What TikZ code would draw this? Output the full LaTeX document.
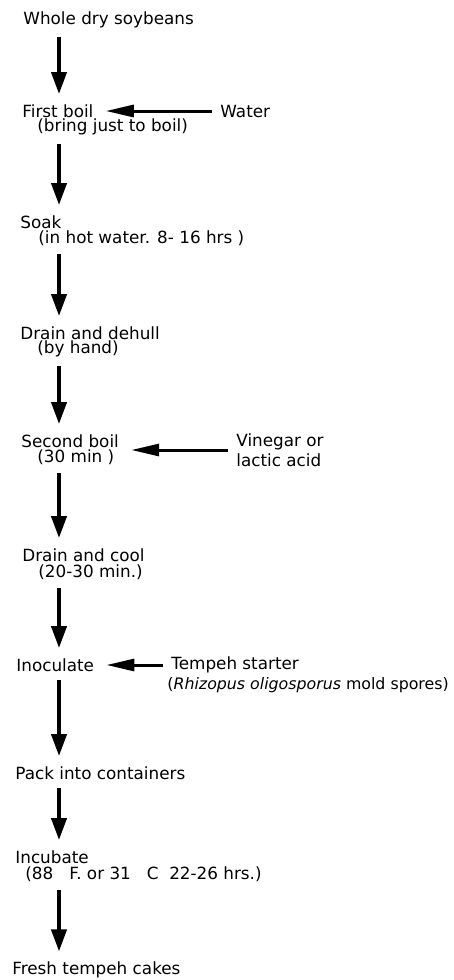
\documentclass[tikz,border=0pt]{standalone}
\usepackage{fontspec}
\setmainfont{DejaVu Sans}
\usetikzlibrary{arrows.meta}

\begin{document}
\begin{tikzpicture}[
    x=0.5pt, y=-0.5pt,
    stage/.style={anchor=west, inner sep=0pt, font=\fontsize{8.4}{10}\selectfont},
    down/.style={-{Triangle[length=11pt, width=7.5pt]}, line width=2pt, shorten <=4pt, shorten >=5pt},
    feed/.style={-{Triangle[length=14pt, width=6pt]}, line width=1.5pt, shorten <=4pt, shorten >=6pt}
]
    \useasboundingbox (0,0) rectangle (454,980);
    \coordinate (spine) at (59,0);

    % Main steps
    \node[stage] (beans) at (23,20) {Whole dry soybeans};
    \node[stage] (boil1) at (22,111) {First boil};
    \node[stage] (boil1note) at (37,127) {(bring just to boil)};
    \node[stage] (soak) at (20,222) {Soak};
    \node[stage] (soaknote) at (38,238) {(in hot water. 8- 16 hrs )};
    \node[stage] (dehull) at (20,333) {Drain and dehull};
    \node[stage] (dehullnote) at (37,349) {(by hand)};
    \node[stage] (boil2) at (21,441) {Second boil};
    \node[stage] (boil2note) at (37,457) {(30 min )};
    \node[stage] (cool) at (22,555) {Drain and cool};
    \node[stage] (coolnote) at (38,572) {(20-30 min.)};
    \node[stage] (inoc) at (16,665) {Inoculate};
    \node[stage] (pack) at (15,773) {Pack into containers};
    \node[stage] (incub) at (15,857) {Incubate};
    \node[stage] (incubnote) at (25,874) {(88\ \ \ F. or 31\ \ \ C\ \ 22-26 hrs.)};
    \node[stage] (cakes) at (12,970) {Fresh tempeh cakes};

    % Added inputs
    \node[stage] (water) at (220,111) {Water};
    \node[stage, align=left] (acid) at (236,450) {Vinegar or\\lactic acid};
    \node[stage] (starter) at (171,665) {Tempeh starter};
    \node[stage, font=\fontsize{7.9}{10}\selectfont] (spores) at (167,685) {(\textit{Rhizopus oligosporus} mold spores)};

    % Arrows down the chain
    \draw[down] (beans.south -| spine) -- (boil1.north -| spine);
    \draw[down] (boil1note.south -| spine) -- (soak.north -| spine);
    \draw[down] (soaknote.south -| spine) -- (dehull.north -| spine);
    \draw[down] (dehullnote.south -| spine) -- (boil2.north -| spine);
    \draw[down] (boil2note.south -| spine) -- (cool.north -| spine);
    \draw[down] (coolnote.south -| spine) -- (inoc.north -| spine);
    \draw[down] (inoc.south -| spine) -- (pack.north -| spine);
    \draw[down] (pack.south -| spine) -- (incub.north -| spine);
    \draw[down] (incubnote.south -| spine) -- (cakes.north -| spine);

    % Side inputs
    \draw[feed] (water.west) -- (water.west -| boil1.east);
    \draw[feed] (acid.west) -- (acid.west -| boil2.east);
    \draw[feed] (starter.west) -- (starter.west -| inoc.east);

\end{tikzpicture}
\end{document}
